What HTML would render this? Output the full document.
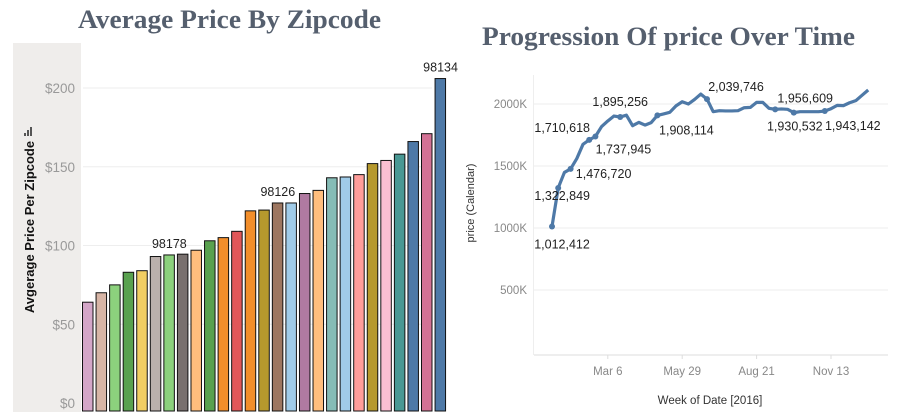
<!DOCTYPE html>
<html><head><meta charset="utf-8"><style>
body{margin:0;background:#fff;width:897px;height:417px;overflow:hidden;}
svg{display:block;font-family:"Liberation Sans",sans-serif;}
</style></head><body>
<svg id="c" width="897" height="417" viewBox="0 0 897 417">
<text x="78" y="28" textLength="303" lengthAdjust="spacingAndGlyphs" font-family="Liberation Serif,serif" font-weight="bold" font-size="26" fill="#555f6e">Average Price By Zipcode</text>
<text x="482" y="45" textLength="373" lengthAdjust="spacingAndGlyphs" font-family="Liberation Serif,serif" font-weight="bold" font-size="26" fill="#555f6e">Progression Of price Over Time</text>
<rect x="13" y="43" width="68" height="369" fill="#efedeb"/>
<text transform="translate(34,227) rotate(-90)" text-anchor="middle" font-weight="bold" font-size="13" fill="#111">Avgerage Price Per Zipcode</text>
<g><rect x="24" y="133" width="2" height="3" fill="#555"/><rect x="27" y="130" width="2" height="6" fill="#555"/><rect x="30" y="127" width="2" height="9" fill="#555"/></g>
<g id="bars"></g>
<text transform="translate(474,203) rotate(-90)" text-anchor="middle" font-size="11" fill="#333">price (Calendar)</text>
<text x="710" y="404" text-anchor="middle" font-size="11.5" fill="#333">Week of Date [2016]</text>
<g id="line"></g>
</svg>
<script>
const NS='http://www.w3.org/2000/svg';
function mk(p,t,a){const e=document.createElementNS(NS,t);for(const k in a)e.setAttribute(k,a[k]);p.appendChild(e);return e;}
// ---- bar chart data
const barValues=[64,70,75,83,84,93,94,94.5,97,103,105,109,122,122.5,127,127,133,135,143,143.5,145,152,154,158,166,171,206];
const barColors=['#d4a6c8','#d7b5a6','#8cd17d','#59a14f','#f1ce63','#bab0ac','#8cd17d','#79706e','#ffbe7d','#59a14f','#f28e2b','#e15759','#f28e2b','#b6992d','#9d7660','#a0cbe8','#b07aa1','#ffbe7d','#86bcb6','#a0cbe8','#ff9d9a','#b6992d','#fabfd2','#499894','#4e79a7','#d37295','#4e79a7'];
const barLabels={6:'98178',14:'98126',26:'98134'};
const barTicks=[0,50,100,150,200];
const bY=v=>403-v*1.575;
const bX=i=>82+i*13.56;
const bg=document.getElementById('bars');
barTicks.forEach(t=>{
 if(t>0){const g=mk(bg,'line',{x1:83,x2:432,y1:bY(t),y2:bY(t),stroke:'#eeeeee'});
 
 }
 const l=mk(bg,'text',{x:75,y:bY(t)+5,'text-anchor':'end','font-size':13.5,fill:'#999'});l.textContent='$'+t;
 
 
});
barValues.forEach((v,i)=>{
 const r=mk(bg,'rect',{x:bX(i)+0.5,y:bY(v),width:10.5,height:403-bY(v)+8,fill:barColors[i],stroke:'#111','stroke-width':1});
 
 
 if(barLabels[i]){const t=mk(bg,'text',{x:bX(i)+6,y:bY(v)-7,'text-anchor':'middle','font-size':12.5,fill:'#222'});t.textContent=barLabels[i];
 
 }
});
// ---- line chart data
const weekValues=[1012412,1322849,1448000,1476720,1560000,1675000,1710618,1737945,1818000,1863000,1903000,1895256,1910000,1825000,1852000,1830000,1850000,1908114,1920000,1933000,1985000,2018000,2000000,2037000,2080000,2039746,1938000,1946000,1944000,1944000,1946000,1970000,1973000,2013000,2013000,1965000,1956609,1960000,1957000,1930532,1938000,1938000,1938000,1938000,1943142,1962000,1989000,1987000,2010000,2027000,2070000,2113000];
const labelIdx=[0,1,3,6,7,11,17,25,36,39,44];
const labelOff=[[10,18],[4,8],[33,5],[-27,-12],[28,13],[0,-15],[29,15],[29,-12],[30,-11],[1,14],[28,15]];
const yTicks=[500000,1000000,1500000,2000000];
const xTickLabels=['Mar 6','May 29','Aug 21','Nov 13'];
const xTickWeeks=[9,21,33,45];
const lX=i=>552+i*6.2;
const lY=v=>352-v*0.000124;
const lg=document.getElementById('line');
yTicks.forEach(t=>{
 const g=mk(lg,'line',{x1:534,x2:888,y1:lY(t),y2:lY(t),stroke:'#eeeeee'});
 
 
 const l=mk(lg,'text',{x:527,y:lY(t)+4,'text-anchor':'end','font-size':11.5,fill:'#888'});l.textContent=(t/1000)+'K';
 
 
});
const ax=mk(lg,'line',{x1:534,x2:888,y1:355,y2:355,stroke:'#ddd'});


const ay=mk(lg,'line',{x1:533.5,x2:533.5,y1:75,y2:355,stroke:'#eee'});


xTickLabels.forEach((s,k)=>{
 const tk=mk(lg,'line',{x1:lX(xTickWeeks[k]),x2:lX(xTickWeeks[k]),y1:355,y2:359,stroke:'#ddd'});
 
 
 const l=mk(lg,'text',{x:lX(xTickWeeks[k]),y:375,'text-anchor':'middle','font-size':11.5,fill:'#888'});l.textContent=s;
 
 
});
const p=mk(lg,'polyline',{points:weekValues.map((v,i)=>lX(i)+','+lY(v)).join(' '),fill:'none',stroke:'#4e79a7','stroke-width':3.2,'stroke-linejoin':'round'});


labelIdx.forEach((i,k)=>{
 const c=mk(lg,'circle',{cx:lX(i),cy:lY(weekValues[i]),r:3,fill:'#4e79a7'});
 
 
 const t=mk(lg,'text',{x:lX(i)+labelOff[k][0],y:lY(weekValues[i])+labelOff[k][1]+4,'text-anchor':'middle','font-size':12.5,fill:'#222'});
 t.textContent=weekValues[i].toLocaleString('en-US');
 
 
});
</script>
</body></html>
